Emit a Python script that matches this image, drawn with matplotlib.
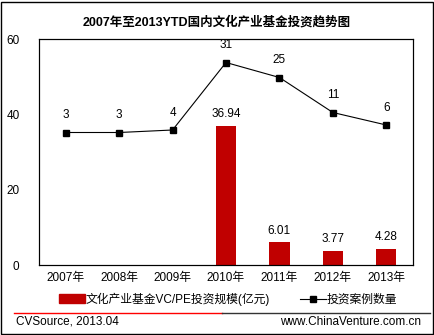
import matplotlib
matplotlib.use('Agg')
import matplotlib.pyplot as plt
from matplotlib.lines import Line2D
from matplotlib.patches import Rectangle

plt.rcParams['font.family'] = ['Liberation Sans', 'Noto Sans CJK SC']

# ── Data ─────────────────────────────────────────────
years  = ['2007年', '2008年', '2009年', '2010年', '2011年', '2012年', '2013年']
amount = [0, 0, 0, 36.94, 6.01, 3.77, 4.28]      # 亿元
amount_lbl = ['', '', '', '36.94', '6.01', '3.77', '4.28']
deals  = [3, 3, 4, 31, 25, 11, 6]

RED = '#C00000'

fig = plt.figure(figsize=(4.35, 3.35), dpi=100)
W, H = 435, 335
ax = fig.add_axes([39/W, 1 - 265/H, (413-39)/W, (265-39)/H])

x = range(len(years))
ax.bar(x, amount, width=0.38, color=RED, zorder=2)
for i, (v, t) in enumerate(zip(amount, amount_lbl)):
    if t:
        ax.text(i, v + 1.5, t, ha='center', va='bottom', fontsize=8.5)
ax.set_ylim(0, 60)
ax.set_xlim(-0.5, len(years) - 0.5)
ax.set_yticks([0, 20, 40, 60])
ax.set_xticks(list(x))
ax.set_xticklabels(years, fontsize=8.5)
ax.tick_params(axis='both', length=0, labelsize=8.5)
ax.tick_params(axis='y', pad=14)
ax.tick_params(axis='x', pad=5)
for s in ax.spines.values():
    s.set_linewidth(0.8)
ax.yaxis.set_label_position('left')

ax2 = ax.twinx()
ax2.plot(x, deals, '-s', color='black', lw=0.8, ms=4, zorder=3)
ax2.set_ylim(-50, 40.4)
ax2.set_yticks([])
for i, v in enumerate(deals):
    ax2.text(i, v + 4.5, str(v), ha='center', va='bottom', fontsize=8.5)

# title
fig.text(217/W, 1 - 22/H, '2007年至2013YTD国内文化产业基金投资趋势图',
         ha='center', va='center', fontsize=9, fontweight='bold')

# legend
leg_h = [Rectangle((0, 0), 1, 1, color=RED),
         Line2D([0], [0], color='black', marker='s', lw=0.8, ms=4)]
fig.legend(leg_h, ['文化产业基金VC/PE投资规模(亿元)', '投资案例数量'],
           loc='center', bbox_to_anchor=(228/W, 1 - 299/H), ncol=2,
           frameon=False, fontsize=8.5, handlelength=2.2, handletextpad=0.1,
           columnspacing=2.5)

# footer
fig.add_artist(Line2D([14/W, 222/W], [1 - 313/H] * 2, color='#FF0000', lw=1))
fig.add_artist(Line2D([222/W, 430/W], [1 - 313/H] * 2, color='#333333', lw=1))
fig.text(16/W, 1 - 322/H, 'CVSource, 2013.04', ha='left', va='center', fontsize=8.5)
fig.text(421/W, 1 - 322/H, 'www.ChinaVenture.com.cn', ha='right', va='center', fontsize=8.5)

# outer frame
fig.add_artist(Rectangle((1/W, 1/H), 432/W, 332/H, fill=False, ec='black', lw=1))

fig.savefig('out.png', dpi=100)
